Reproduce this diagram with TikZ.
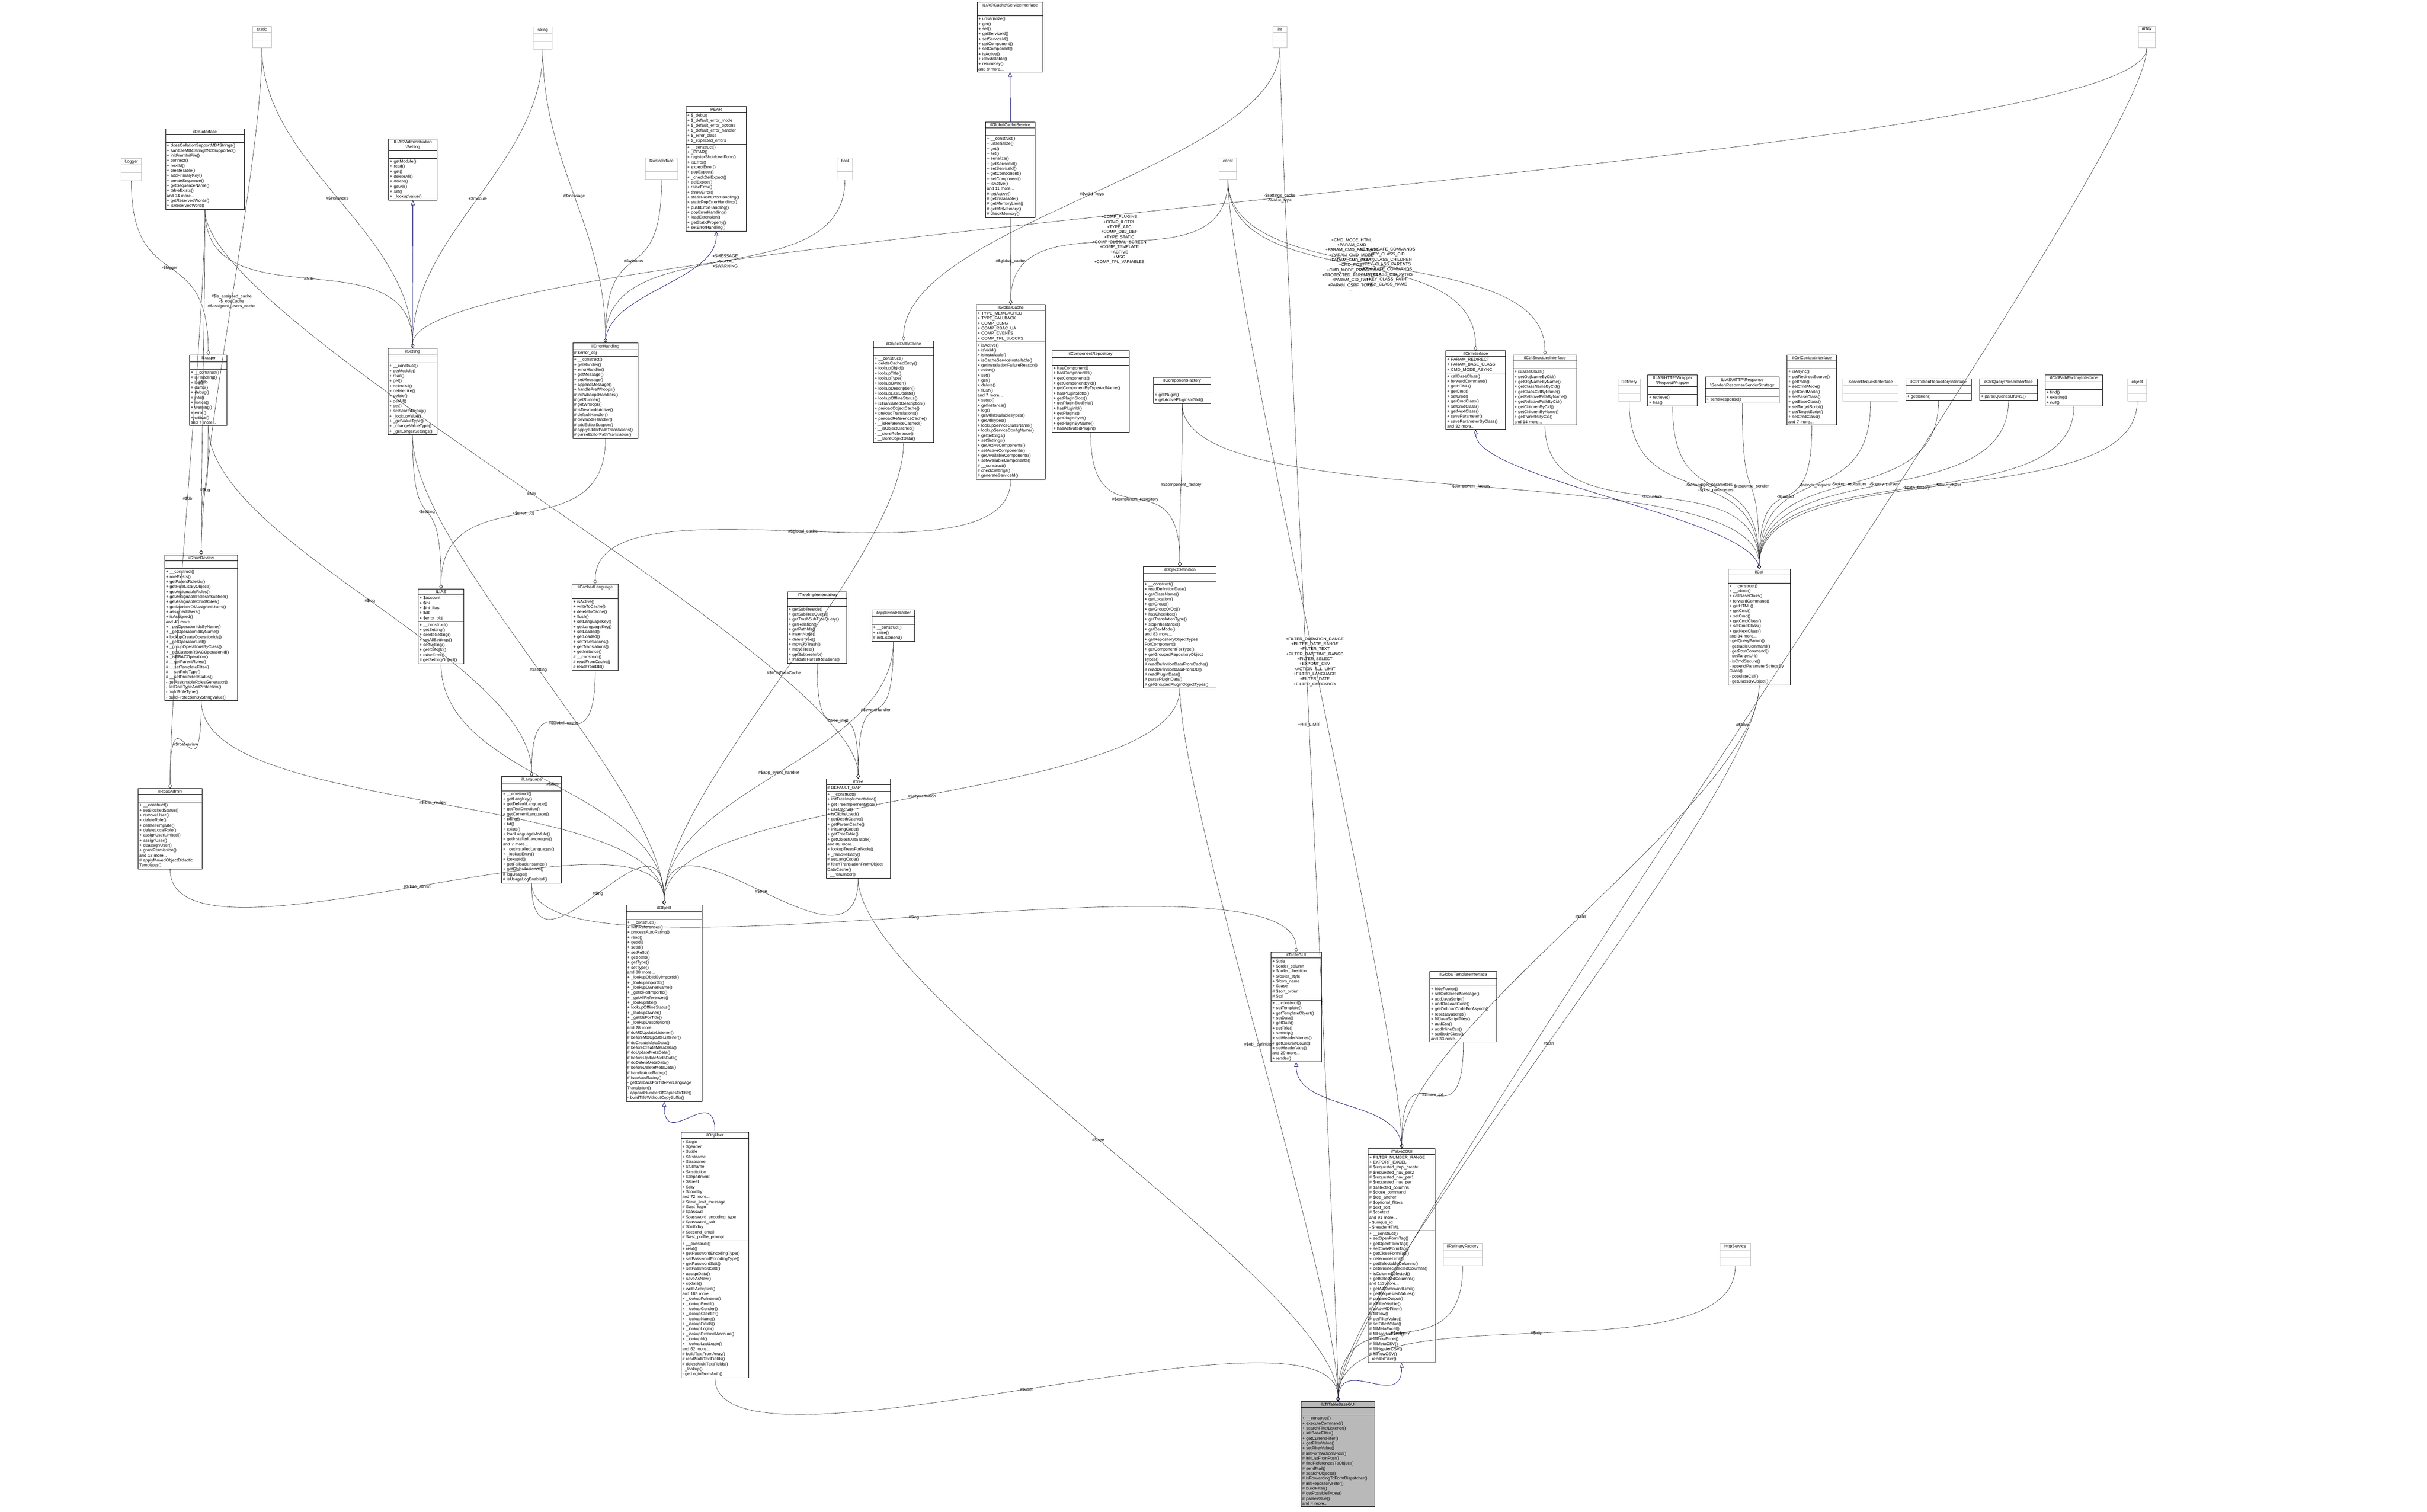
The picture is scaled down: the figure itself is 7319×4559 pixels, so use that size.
\documentclass[tikz,border=0pt]{standalone}
\usepackage{fontspec}
\setmainfont{Liberation Sans}
\usetikzlibrary{shapes.multipart,arrows.meta,positioning}

% class boxes: name, position (centre x, top y), width, title, attributes, methods
\newcommand{\cls}[6]{\node[classbox,text width=#3] (#1) at (#2) {\centering #4\par\nodepart{two}#5\nodepart{three}#6};}
% plain type boxes
\newcommand{\tbox}[3]{\node[typebox,text width=#3] (#1) at (#2) {\centering #1\par\nodepart{two}\strut\nodepart{three}\strut};}
% member edge and inheritance edge
\newcommand{\useof}[3]{\draw[useedge] (#1.south) .. controls +(0,350) and +(0,-350) .. (#2.north) node[lbl]{#3};}
\newcommand{\isa}[2]{\draw[isaedge] (#1.north) .. controls +(0,-150) and +(0,150) .. (#2.south);}

\begin{document}
\begin{tikzpicture}[
    x=0.01cm, y=-0.01cm,
    classbox/.style={draw=black, rectangle split, rectangle split parts=3, anchor=north,
        align=left, inner sep=1pt, font=\fontsize{3.6}{4.3}\selectfont, fill=white},
    typebox/.style={classbox, draw=gray!50},
    useedge/.style={draw=gray!30!black, line width=0.25pt, -{Diamond[open,length=4pt,width=3pt]}},
    isaedge/.style={draw=blue!40!black, line width=0.3pt, -{Triangle[open,length=4pt,width=3.5pt]}},
    lbl/.style={font=\fontsize{3.6}{4.3}\selectfont, align=center, pos=0.5}
]
    \useasboundingbox (0,0) rectangle (7319,4559);

    % top row: types and interfaces
    \tbox{static}{790,79}{0.5cm}
    \tbox{string}{1637,80}{0.5cm}
    \tbox{int}{3860,79}{0.35cm}
    \tbox{array}{6474,79}{0.45cm}
    \tbox{Logger}{396,477}{0.55cm}
    \tbox{RunInterface}{1995,476}{0.9cm}
    \tbox{bool}{2548,476}{0.4cm}
    \tbox{const}{3703,476}{0.45cm}
    \cls{ilDBInterface}{618,388}{2.3cm}{ilDBInterface}{\strut}{+ doesCollationSupportMB4Strings()\\+ sanitizeMB4StringIfNotSupported()\\+ initFromIniFile()\\+ connect()\\+ nextId()\\+ createTable()\\+ addPrimaryKey()\\+ createSequence()\\+ getSequenceName()\\+ tableExists()\\and 74 more...\\+ getReservedWords()\\+ isReservedWord()}
    \cls{admSetting}{1245,418}{1.38cm}{ILIAS\textbackslash Administration\\\textbackslash Setting}{\strut}{+ getModule()\\+ read()\\+ get()\\+ deleteAll()\\+ delete()\\+ getAll()\\+ set()\\+ \_lookupValue()}
    \cls{PEAR}{2160,321}{1.75cm}{PEAR}{+ \$\_debug\\+ \$\_default\_error\_mode\\+ \$\_default\_error\_options\\+ \$\_default\_error\_handler\\+ \$\_error\_class\\+ \$\_expected\_errors}{+ \_\_construct()\\+ \_PEAR()\\+ registerShutdownFunc()\\+ isError()\\+ expectError()\\+ popExpect()\\+ \_checkDelExpect()\\+ delExpect()\\+ raiseError()\\+ throwError()\\+ staticPushErrorHandling()\\+ staticPopErrorHandling()\\+ pushErrorHandling()\\+ popErrorHandling()\\+ loadExtension()\\+ getStaticProperty()\\+ setErrorHandling()}
    \cls{iGCSI}{3046,6}{1.9cm}{ILIAS\textbackslash Cache\textbackslash ServiceInterface}{\strut}{+ unserialize()\\+ get()\\+ set()\\+ getServiceId()\\+ setServiceId()\\+ getComponent()\\+ setComponent()\\+ isActive()\\+ isInstallable()\\+ returnKey()\\and 9 more...}
    \cls{ilGCS}{3047,367}{1.42cm}{ilGlobalCacheService}{\strut}{+ \_\_construct()\\+ unserialize()\\+ get()\\+ set()\\+ serialize()\\+ getServiceId()\\+ setServiceId()\\+ getComponent()\\+ setComponent()\\+ isActive()\\and 11 more...\\\# getActive()\\\# getInstallable()\\\# getMemoryLimit()\\\# getMinMemory()\\\# checkMemory()}

    % second row
    \cls{ilLogger}{628,1070}{1.05cm}{ilLogger}{\strut}{+ \_\_construct()\\+ isHandling()\\+ log()\\+ dump()\\+ debug()\\+ info()\\+ notice()\\+ warning()\\+ error()\\+ critical()\\and 7 more...}
    \cls{ilSetting}{1244,1050}{1.4cm}{ilSetting}{\strut}{+ \_\_construct()\\+ getModule()\\+ read()\\+ get()\\+ deleteAll()\\+ deleteLike()\\+ delete()\\+ getAll()\\+ set()\\+ setScormDebug()\\+ \_lookupValue()\\+ \_getValueType()\\+ \_changeValueType()\\+ \_getLongerSettings()}
    \cls{ilErrorHandling}{1826,1034}{1.9cm}{ilErrorHandling}{\# \$error\_obj}{+ \_\_construct()\\+ getHandler()\\+ errorHandler()\\+ getMessage()\\+ setMessage()\\+ appendMessage()\\+ handlePreWhoops()\\\# initWhoopsHandlers()\\\# getRunner()\\\# getWhoops()\\\# isDevmodeActive()\\\# defaultHandler()\\\# devmodeHandler()\\\# addEditorSupport()\\\# applyEditorPathTranslations()\\\# parseEditorPathTranslation()}
    \cls{ilObjectDataCache}{2725,1027}{1.75cm}{ilObjectDataCache}{\strut}{+ \_\_construct()\\+ deleteCachedEntry()\\+ lookupObjId()\\+ lookupTitle()\\+ lookupType()\\+ lookupOwner()\\+ lookupDescription()\\+ lookupLastUpdate()\\+ lookupOfflineStatus()\\+ isTranslatedDescription()\\+ preloadObjectCache()\\+ preloadTranslations()\\+ preloadReferenceCache()\\- \_\_isReferenceCached()\\- \_\_isObjectCached()\\- \_\_storeReference()\\- \_\_storeObjectData()}
    \cls{ilGlobalCache}{3048,918}{2cm}{ilGlobalCache}{+ TYPE\_MEMCACHED\\+ TYPE\_FALLBACK\\+ COMP\_CLNG\\+ COMP\_RBAC\_UA\\+ COMP\_EVENTS\\+ COMP\_TPL\_BLOCKS}{+ isActive()\\+ isValid()\\+ isInstallable()\\+ isCacheServiceInstallable()\\+ getInstallationFailureReason()\\+ exists()\\+ set()\\+ get()\\+ delete()\\+ flush()\\and 7 more...\\+ setup()\\+ getInstance()\\+ log()\\+ getAllInstallableTypes()\\+ getAllTypes()\\+ lookupServiceClassName()\\+ lookupServiceConfigName()\\+ getSettings()\\+ setSettings()\\+ getActiveComponents()\\+ setActiveComponents()\\+ getAvailableComponents()\\+ setAvailableComponents()\\\# \_\_construct()\\\# checkSettings()\\\# generateServiceId()}
    \cls{ilComponentRepository}{3289,1057}{2.25cm}{ilComponentRepository}{\strut}{+ hasComponent()\\+ hasComponentId()\\+ getComponents()\\+ getComponentById()\\+ getComponentByTypeAndName()\\+ hasPluginSlotId()\\+ getPluginSlots()\\+ getPluginSlotById()\\+ hasPluginId()\\+ getPlugins()\\+ getPluginById()\\+ getPluginByName()\\+ hasActivatedPlugin()}
    \cls{ilComponentFactory}{3565,1137}{1.65cm}{ilComponentFactory}{\strut}{+ getPlugin()\\+ getActivePluginsInSlot()}
    \cls{ilCtrlInterface}{4450,1057}{1.72cm}{ilCtrlInterface}{+ PARAM\_REDIRECT\\+ PARAM\_BASE\_CLASS\\+ CMD\_MODE\_ASYNC}{+ callBaseClass()\\+ forwardCommand()\\+ getHTML()\\+ getCmd()\\+ setCmd()\\+ getCmdClass()\\+ setCmdClass()\\+ getNextClass()\\+ saveParameter()\\+ saveParameterByClass()\\and 32 more...}
    \cls{ilCtrlStructureInterface}{4659,1070}{1.84cm}{ilCtrlStructureInterface}{\strut}{+ isBaseClass()\\+ getObjNameByCid()\\+ getObjNameByName()\\+ getClassNameByCid()\\+ getClassCidByName()\\+ getRelativePathByName()\\+ getRelativePathByCid()\\+ getChildrenByCid()\\+ getChildrenByName()\\+ getParentsByCid()\\and 14 more...}
    \tbox{Refinery}{4913,1142}{0.6cm}
    \cls{RequestWrapper}{5044,1130}{1.42cm}{ILIAS\textbackslash HTTP\textbackslash Wrapper\\\textbackslash RequestWrapper}{\strut}{+ retrieve()\\+ has()}
    \cls{ResponseSender}{5254,1136}{2.15cm}{ILIAS\textbackslash HTTP\textbackslash Response\\\textbackslash Sender\textbackslash ResponseSenderStrategy}{\strut}{+ sendResponse()}
    \cls{ilCtrlContextInterface}{5464,1070}{1.42cm}{ilCtrlContextInterface}{\strut}{+ isAsync()\\+ getRedirectSource()\\+ getPath()\\+ setCmdMode()\\+ getCmdMode()\\+ setBaseClass()\\+ getBaseClass()\\+ setTargetScript()\\+ getTargetScript()\\+ setCmdClass()\\and 7 more...}
    \tbox{ServerRequestInterface}{5641,1142}{1.6cm}
    \cls{TokenRepo}{5846,1142}{1.9cm}{ilCtrlTokenRepositoryInterface}{\strut}{+ getToken()}
    \cls{QueryParser}{6057,1142}{1.66cm}{ilCtrlQueryParserInterface}{\strut}{+ parseQueriesOfURL()}
    \cls{PathFactory}{6254,1130}{1.66cm}{ilCtrlPathFactoryInterface}{\strut}{+ find()\\+ existing()\\+ null()}
    \tbox{object}{6445,1142}{0.5cm}

    % third row
    \cls{ilRbacReview}{607,1673}{2.13cm}{ilRbacReview}{\strut}{+ \_\_construct()\\+ roleExists()\\+ getParentRoleIds()\\+ getRoleListByObject()\\+ getAssignableRoles()\\+ getAssignableRolesInSubtree()\\+ getAssignableChildRoles()\\+ getNumberOfAssignedUsers()\\+ assignedUsers()\\+ isAssigned()\\and 43 more...\\+ \_getOperationIdsByName()\\+ \_getOperationIdByName()\\+ lookupCreateOperationIds()\\+ \_getOperationList()\\+ \_groupOperationsByClass()\\+ \_getCustomRBACOperationId()\\+ \_isRBACOperation()\\\# \_\_getParentRoles()\\\# \_\_setTemplateFilter()\\\# \_\_setRoleType()\\\# \_\_setProtectedStatus()\\- getAssignableRolesGenerator()\\- setRoleTypeAndProtection()\\- buildRoleType()\\- buildProtectionByStringValue()}
    \cls{ILIAS}{1330,1776}{1.3cm}{ILIAS}{+ \$account\\+ \$ini\\+ \$ini\_ilias\\+ \$db\\+ \$error\_obj}{+ \_\_construct()\\+ getSetting()\\+ deleteSetting()\\+ getAllSettings()\\+ setSetting()\\+ getClientId()\\+ raiseError()\\\# getSettingObject()}
    \cls{ilCachedLanguage}{1795,1761}{1.32cm}{ilCachedLanguage}{\strut}{+ isActive()\\+ writeToCache()\\+ deleteInCache()\\+ flush()\\+ setLanguageKey()\\+ getLanguageKey()\\+ setLoaded()\\+ getLoaded()\\+ setTranslations()\\+ getTranslations()\\+ getInstance()\\\# \_\_construct()\\\# readFromCache()\\\# readFromDB()}
    \cls{ilTreeImplementation}{2464,1784}{1.72cm}{ilTreeImplementation}{\strut}{+ getSubTreeIds()\\+ getSubTreeQuery()\\+ getTrashSubTreeQuery()\\+ getRelation()\\+ getPathIds()\\+ insertNode()\\+ deleteTree()\\+ moveToTrash()\\+ moveTree()\\+ getSubtreeInfo()\\+ validateParentRelations()}
    \cls{ilAppEventHandler}{2694,1839}{1.22cm}{ilAppEventHandler}{\strut}{+ \_\_construct()\\+ raise()\\\# initListeners()}
    \cls{ilObjectDefinition}{3558,1708}{2.12cm}{ilObjectDefinition}{\strut}{+ \_\_construct()\\+ readDefinitionData()\\+ getClassName()\\+ getLocation()\\+ getGroup()\\+ getGroupOfObj()\\+ hasCheckbox()\\+ getTranslationType()\\+ stopInheritance()\\+ getDevMode()\\and 83 more...\\+ getRepositoryObjectTypes\\ForComponent()\\+ getComponentForType()\\+ getGroupedRepositoryObject\\Types()\\\# readDefinitionDataFromCache()\\\# readDefinitionDataFromDB()\\\# readPluginData()\\\# parsePluginData()\\\# getGroupedPluginObjectTypes()}
    \cls{ilCtrl}{5305,1716}{1.8cm}{ilCtrl}{\strut}{+ \_\_construct()\\+ \_\_clone()\\+ callBaseClass()\\+ forwardCommand()\\+ getHTML()\\+ getCmd()\\+ setCmd()\\+ getCmdClass()\\+ setCmdClass()\\+ getNextClass()\\and 34 more...\\- getQueryParam()\\- getTableCommand()\\- getPostCommand()\\- getTargetUrl()\\- isCmdSecure()\\- appendParameterStringsBy\\Class()\\- populateCall()\\- getClassByObject()}

    % fourth row
    \cls{ilRbacAdmin}{513,2377}{1.85cm}{ilRbacAdmin}{\strut}{+ \_\_construct()\\+ setBlockedStatus()\\+ removeUser()\\+ deleteRole()\\+ deleteTemplate()\\+ deleteLocalRole()\\+ assignUserLimited()\\+ assignUser()\\+ deassignUser()\\+ grantPermission()\\and 18 more...\\\# applyMovedObjectDidactic\\Templates()}
    \cls{ilLanguage}{1603,2341}{1.72cm}{ilLanguage}{\strut}{+ \_\_construct()\\+ getLangKey()\\+ getDefaultLanguage()\\+ getTextDirection()\\+ getContentLanguage()\\+ txtlng()\\+ txt()\\+ exists()\\+ loadLanguageModule()\\+ getInstalledLanguages()\\and 7 more...\\+ \_getInstalledLanguages()\\+ \_lookupEntry()\\+ lookupId()\\+ getFallbackInstance()\\+ getGlobalInstance()\\\# logUsage()\\\# isUsageLogEnabled()}
    \cls{ilTree}{2588,2348}{1.86cm}{ilTree}{\# DEFAULT\_GAP}{+ \_\_construct()\\+ initTreeImplementation()\\+ getTreeImplementation()\\+ useCache()\\+ isCacheUsed()\\+ getDepthCache()\\+ getParentCache()\\+ initLangCode()\\+ getTreeTable()\\+ getObjectDataTable()\\and 89 more...\\+ lookupTreesForNode()\\+ \_removeEntry()\\\# setLangCode()\\\# fetchTranslationFromObject\\DataCache()\\- \_\_renumber()}

    % lower part
    \cls{ilObject}{2003,2728}{2.22cm}{ilObject}{\strut}{+ \_\_construct()\\+ withReferences()\\+ processAutoRating()\\+ read()\\+ getId()\\+ setId()\\+ setRefId()\\+ getRefId()\\+ getType()\\+ setType()\\and 88 more...\\+ \_lookupObjIdByImportId()\\+ \_lookupImportId()\\+ \_lookupOwnerName()\\+ \_getIdForImportId()\\+ \_getAllReferences()\\+ \_lookupTitle()\\+ lookupOfflineStatus()\\+ \_lookupOwner()\\+ \_getIdsForTitle()\\+ \_lookupDescription()\\and 28 more...\\\# doMDUpdateListener()\\\# beforeMDUpdateListener()\\\# doCreateMetaData()\\\# beforeCreateMetaData()\\\# doUpdateMetaData()\\\# beforeUpdateMetaData()\\\# doDeleteMetaData()\\\# beforeDeleteMetaData()\\\# handleAutoRating()\\\# hasAutoRating()\\- getCallbackForTitlePerLanguage\\Translation()\\- appendNumberOfCopiesToTitle()\\- buildTitleWithoutCopySuffix()}
    \cls{ilObjUser}{2156,3413}{1.97cm}{ilObjUser}{+ \$login\\+ \$gender\\+ \$utitle\\+ \$firstname\\+ \$lastname\\+ \$fullname\\+ \$institution\\+ \$department\\+ \$street\\+ \$city\\+ \$country\\and 72 more...\\\# \$time\_limit\_message\\\# \$last\_login\\\# \$passwd\\\# \$password\_encoding\_type\\\# \$password\_salt\\\# \$birthday\\\# \$second\_email\\\# \$last\_profile\_prompt}{+ \_\_construct()\\+ read()\\+ getPasswordEncodingType()\\+ setPasswordEncodingType()\\+ getPasswordSalt()\\+ setPasswordSalt()\\+ assignData()\\+ saveAsNew()\\+ update()\\+ writeAccepted()\\and 185 more...\\+ \_lookupFullname()\\+ \_lookupEmail()\\+ \_lookupGender()\\+ \_lookupClientIP()\\+ \_lookupName()\\+ \_lookupFields()\\+ \_lookupLogin()\\+ \_lookupExternalAccount()\\+ \_lookupId()\\+ \_lookupLastLogin()\\and 62 more...\\\# buildTextFromArray()\\\# readMultiTextFields()\\\# deleteMultiTextFields()\\- \_lookup()\\- getLoginFromAuth()}
    \cls{ilTableGUI}{3909,2871}{1.44cm}{ilTableGUI}{+ \$title\\+ \$order\_column\\+ \$order\_direction\\+ \$footer\_style\\+ \$form\_name\\+ \$base\\\# \$sort\_order\\\# \$tpl}{+ \_\_construct()\\+ setTemplate()\\+ getTemplateObject()\\+ setData()\\+ getData()\\+ setTitle()\\+ setHelp()\\+ setHeaderNames()\\+ getColumnCount()\\+ setHeaderVars()\\and 29 more...\\+ render()}
    \cls{ilGlobalTemplateInterface}{4413,2929}{1.95cm}{ilGlobalTemplateInterface}{\strut}{+ hideFooter()\\+ setOnScreenMessage()\\+ addJavaScript()\\+ addOnLoadCode()\\+ getOnLoadCodeForAsynch()\\+ resetJavascript()\\+ fillJavaScriptFiles()\\+ addCss()\\+ addInlineCss()\\+ setBodyClass()\\and 33 more...}
    \cls{ilTable2GUI}{4227,3463}{1.95cm}{ilTable2GUI}{+ FILTER\_NUMBER\_RANGE\\+ EXPORT\_EXCEL\\\# \$requested\_tmpl\_create\\\# \$requested\_nav\_par2\\\# \$requested\_nav\_par1\\\# \$requested\_nav\_par\\\# \$selected\_columns\\\# \$close\_command\\\# \$top\_anchor\\\# \$optional\_filters\\\# \$ext\_sort\\\# \$context\\and 91 more...\\- \$unique\_id\\- \$headerHTML}{+ \_\_construct()\\+ setOpenFormTag()\\+ getOpenFormTag()\\+ setCloseFormTag()\\+ getCloseFormTag()\\+ determineLimit()\\+ getSelectableColumns()\\+ determineSelectedColumns()\\+ isColumnSelected()\\+ getSelectedColumns()\\and 113 more...\\+ getAllCommandLimit()\\+ getRequestedValues()\\\# prepareOutput()\\\# isFilterVisible()\\\# isAdvMDFilter()\\\# fillRow()\\\# getFilterValue()\\\# setFilterValue()\\\# fillMetaExcel()\\\# fillHeaderExcel()\\\# fillRowExcel()\\\# fillMetaCSV()\\\# fillHeaderCSV()\\\# fillRowCSV()\\- renderFilter()}
    \tbox{ilRefineryFactory}{4411,3749}{1.1cm}
    \tbox{HttpService}{5233,3749}{0.85cm}
    \node[classbox, fill=gray!55, text width=2.15cm] (ltiBase) at (4035,4226) {\centering ilLTITableBaseGUI\par\nodepart{two}\strut\nodepart{three}+ \_\_construct()\\+ executeCommand()\\+ searchFilterListener()\\+ initBaseFilter()\\+ getCurrentFilter()\\+ getFilterValue()\\+ setFilterValue()\\\# initFormActionsPost()\\\# initListFromPost()\\\# findReferencesToObject()\\\# sendMail()\\\# searchObjects()\\\# isForwardingToFormDispatcher()\\\# initRepositoryFilter()\\\# buildFilter()\\\# getPossibleTypes()\\\# parseValue()\\and 4 more...};

    % inheritance
    \isa{ilSetting}{admSetting}
    \isa{ilErrorHandling}{PEAR}
    \isa{ilGCS}{iGCSI}
    \isa{ilCtrl}{ilCtrlInterface}
    \isa{ilObjUser}{ilObject}
    \isa{ilTable2GUI}{ilTableGUI}
    \isa{ltiBase}{ilTable2GUI}

    % members
    \useof{Logger}{ilLogger}{-\$logger}
    \useof{static}{ilRbacReview}{\#\$is\_assigned\_cache\\-\$\_opsCache\\\#\$assigned\_users\_cache}
    \useof{static}{ilSetting}{\#\$instances}
    \useof{ilDBInterface}{ilSetting}{\#\$db}
    \useof{string}{ilSetting}{+\$module}
    \useof{array}{ilSetting}{-\$settings\_cache\\-\$value\_type}
    \useof{string}{ilErrorHandling}{\#\$message}
    \useof{RunInterface}{ilErrorHandling}{\#\$whoops}
    \useof{bool}{ilErrorHandling}{+\$MESSAGE\\+\$FATAL\\+\$WARNING}
    \useof{ilGCS}{ilGlobalCache}{\#\$global\_cache}
    \useof{const}{ilGlobalCache}{+COMP\_PLUGINS\\+COMP\_ILCTRL\\+TYPE\_APC\\+COMP\_OBJ\_DEF\\+TYPE\_STATIC\\+COMP\_GLOBAL\_SCREEN\\+COMP\_TEMPLATE\\+ACTIVE\\+MSG\\+COMP\_TPL\_VARIABLES\\...}
    \useof{int}{ilObjectDataCache}{\#\$valid\_keys}
    \useof{ilDBInterface}{ilRbacReview}{\#\$db}
    \useof{ilLogger}{ilRbacReview}{\#\$log}
    \useof{ilRbacReview}{ilRbacAdmin}{\#\$rbacreview}
    \useof{ilDBInterface}{ilRbacAdmin}{\#\$db}
    \useof{ilSetting}{ILIAS}{-\$setting}
    \useof{ilErrorHandling}{ILIAS}{+\$error\_obj}
    \useof{ilGlobalCache}{ilCachedLanguage}{\#\$global\_cache}
    \useof{ilCachedLanguage}{ilLanguage}{\#\$global\_cache}
    \useof{ilLogger}{ilLanguage}{\#\$log}
    \useof{ilTreeImplementation}{ilTree}{-\$tree\_impl}
    \useof{ilAppEventHandler}{ilTree}{\#\$eventHandler}
    \useof{ilDBInterface}{ilTree}{\#\$db}
    \useof{ilComponentRepository}{ilObjectDefinition}{\#\$component\_repository}
    \useof{ilComponentFactory}{ilObjectDefinition}{\#\$component\_factory}
    \useof{ilComponentFactory}{ilCtrl}{-\$component\_factory}
    \useof{ilCtrlStructureInterface}{ilCtrl}{-\$structure}
    \useof{Refinery}{ilCtrl}{-\$refinery}
    \useof{RequestWrapper}{ilCtrl}{-\$get\_parameters\\-\$post\_parameters}
    \useof{ResponseSender}{ilCtrl}{-\$response\_sender}
    \useof{ilCtrlContextInterface}{ilCtrl}{-\$context}
    \useof{ServerRequestInterface}{ilCtrl}{-\$server\_request}
    \useof{TokenRepo}{ilCtrl}{-\$token\_repository}
    \useof{QueryParser}{ilCtrl}{-\$query\_parser}
    \useof{PathFactory}{ilCtrl}{-\$path\_factory}
    \useof{object}{ilCtrl}{-\$exec\_object}
    \useof{const}{ilCtrlInterface}{+CMD\_MODE\_HTML\\+PARAM\_CMD\\+PARAM\_CMD\_FALLBACK\\+PARAM\_CMD\_MODE\\+PARAM\_CMD\_CLASS\\+CMD\_POST\\+CMD\_MODE\_PROCESS\\+PROTECTED\_PARAMETERS\\+PARAM\_CID\_PATH\\+PARAM\_CSRF\_TOKEN\\...}
    \useof{const}{ilCtrlStructureInterface}{+KEY\_UNSAFE\_COMMANDS\\+KEY\_CLASS\_CID\\+KEY\_CLASS\_CHILDREN\\+KEY\_CLASS\_PARENTS\\+KEY\_SAFE\_COMMANDS\\+KEY\_CLASS\_CID\_PATHS\\+KEY\_CLASS\_PATH\\+KEY\_CLASS\_NAME}
    \useof{ilLanguage}{ilObject}{\#\$lng}
    \useof{ilTree}{ilObject}{\#\$tree}
    \useof{ilRbacAdmin}{ilObject}{\#\$rbac\_admin}
    \useof{ilRbacReview}{ilObject}{\#\$rbac\_review}
    \useof{ilSetting}{ilObject}{\#\$setting}
    \useof{ILIAS}{ilObject}{\#\$ilias}
    \useof{ilAppEventHandler}{ilObject}{\#\$app\_event\_handler}
    \useof{ilObjectDefinition}{ilObject}{\#\$objDefinition}
    \useof{ilObjectDataCache}{ilObject}{\#\$ilObjDataCache}
    \useof{ilGlobalTemplateInterface}{ilTable2GUI}{\#\$main\_tpl}
    \useof{ilCtrl}{ilTable2GUI}{\#\$ctrl}
    \useof{ilLanguage}{ilTableGUI}{\#\$lng}
    \useof{const}{ilTable2GUI}{+FILTER\_DURATION\_RANGE\\+FILTER\_DATE\_RANGE\\+FILTER\_TEXT\\+FILTER\_DATETIME\_RANGE\\+FILTER\_SELECT\\+EXPORT\_CSV\\+ACTION\_ALL\_LIMIT\\+FILTER\_LANGUAGE\\+FILTER\_DATE\\+FILTER\_CHECKBOX\\...}
    \useof{ilRefineryFactory}{ltiBase}{\#\$refinery}
    \useof{HttpService}{ltiBase}{\#\$http}
    \useof{ilObjUser}{ltiBase}{\#\$user}
    \useof{ilCtrl}{ltiBase}{\#\$ctrl}
    \useof{ilTree}{ltiBase}{\#\$tree}
    \useof{ilObjectDefinition}{ltiBase}{\#\$obj\_definition}
    \useof{int}{ltiBase}{+HIT\_LIMIT}
    \useof{array}{ltiBase}{\#\$filter}
\end{tikzpicture}
\end{document}
